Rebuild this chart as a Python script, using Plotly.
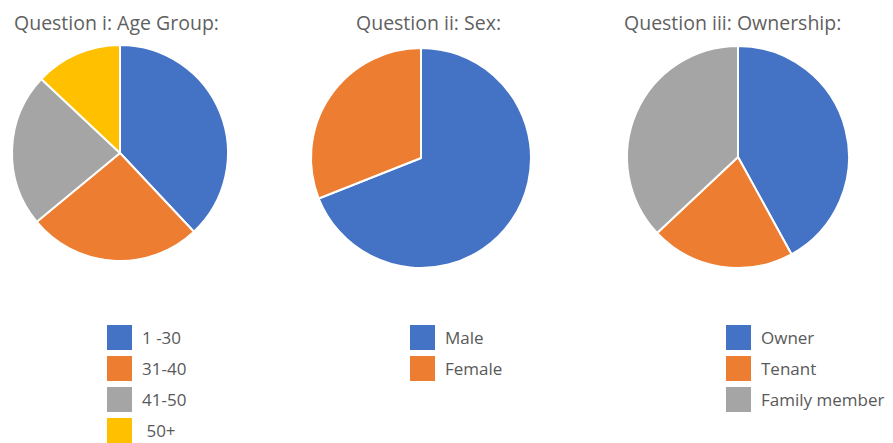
import plotly.graph_objects as go

W, H = 893, 443

titles = ["Question i: Age Group:", "Question ii: Sex:", "Question iii: Ownership:"]
age_labels = ["1 -30", "31-40", "41-50", " 50+"]
age_values = [38, 26, 23, 13]
sex_labels = ["Male", "Female"]
sex_values = [69, 31]
own_labels = ["Owner", "Tenant", "Family member"]
own_values = [42, 21, 37]

blue, orange, gray, yellow = "#4472C4", "#ED7D31", "#A5A5A5", "#FFC000"
age_colors = [blue, orange, gray, yellow]
sex_colors = [blue, orange]
own_colors = [blue, orange, gray]

# pixel boxes for pies: (x0, x1, ytop, ybottom)
boxes = [(10, 230, 45, 261), (311, 531, 48, 268), (627, 849, 46, 268)]
title_cx = [116, 428, 732]
legend_x = [107, 410, 726]

def px_x(x):
    return x / W

def px_y(y):
    return 1 - y / H

fig = go.Figure()
sets = [(age_labels, age_values, age_colors),
        (sex_labels, sex_values, sex_colors),
        (own_labels, own_values, own_colors)]

shapes, annotations = [], []
for i, (labels, values, colors) in enumerate(sets):
    x0, x1, yt, yb = boxes[i]
    fig.add_trace(go.Pie(
        labels=labels, values=values, sort=False, direction="clockwise",
        rotation=0, textinfo="none", hoverinfo="label+percent",
        marker=dict(colors=colors, line=dict(color="white", width=2)),
        domain=dict(x=[px_x(x0), px_x(x1)], y=[px_y(yb), px_y(yt)]),
        showlegend=False,
    ))
    annotations.append(dict(
        text=titles[i], x=px_x(title_cx[i]), y=px_y(22), xref="paper", yref="paper",
        xanchor="center", yanchor="middle", showarrow=False,
        font=dict(family="Open Sans", size=19.5, color="#5f5f5f"),
    ))
    lx = legend_x[i]
    for j, (lab, col) in enumerate(zip(labels, colors)):
        top = 325 + j * 31
        shapes.append(dict(
            type="rect", xref="paper", yref="paper",
            x0=px_x(lx), x1=px_x(lx + 25), y0=px_y(top + 25), y1=px_y(top),
            fillcolor=col, line=dict(width=0),
        ))
        annotations.append(dict(
            text=lab, x=px_x(lx + 33), y=px_y(top + 12.5), xref="paper", yref="paper",
            xanchor="left", yanchor="middle", showarrow=False,
            font=dict(family="Open Sans", size=17, color="#595959"),
        ))

fig.update_layout(
    width=W, height=H, margin=dict(l=0, r=0, t=0, b=0),
    paper_bgcolor="white", plot_bgcolor="white",
    shapes=shapes, annotations=annotations, showlegend=False,
)

fig.write_html("out.html")
